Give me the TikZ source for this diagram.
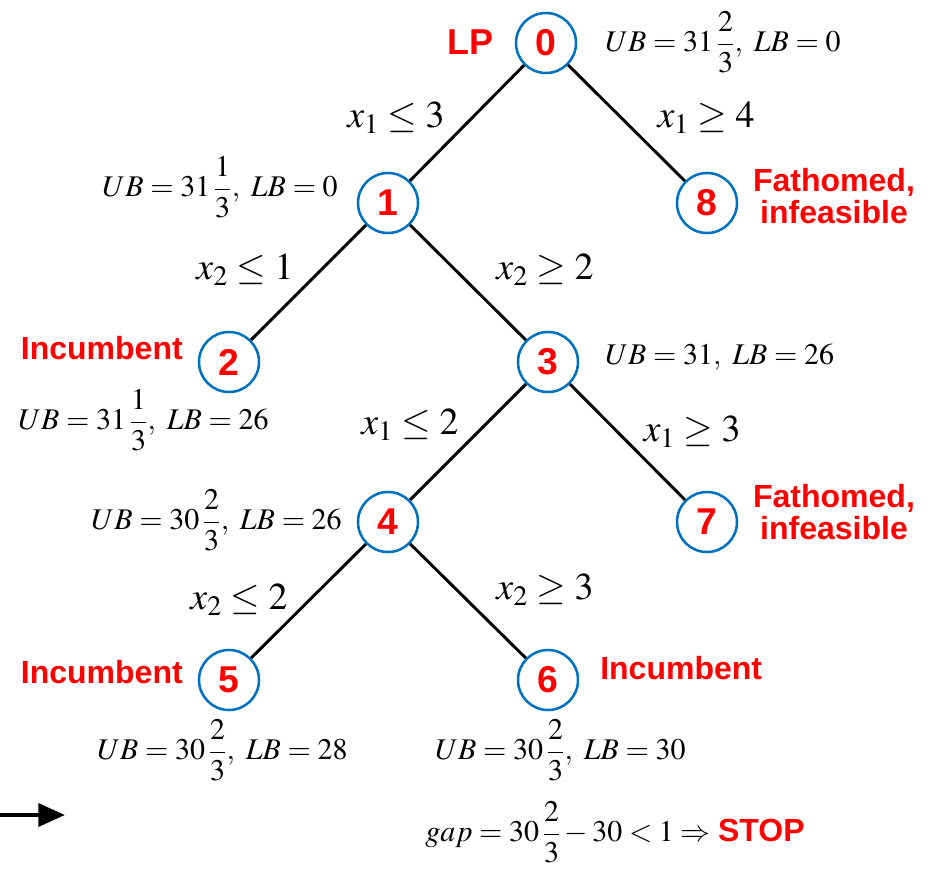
\documentclass[tikz,border=0pt]{standalone}
\usepackage{amsmath}
\usepackage{mathptmx}
\usepackage{fontspec}
\setmainfont{Liberation Serif}
\newfontfamily\labelfont{Liberation Sans}
\usepackage{tikz}
\usetikzlibrary{arrows.meta}
\definecolor{nodeblue}{HTML}{0070C0}
\definecolor{bbred}{HTML}{FF0000}

\tikzset{
  bbnode/.style={circle,draw=nodeblue,line width=1.9pt,minimum size=45pt,inner sep=0pt,
                 fill=white,text=bbred,font=\labelfont\bfseries\fontsize{28}{28}\selectfont},
  branch/.style={line width=2.2pt},
  bound/.style={inner sep=0pt,font=\fontsize{22.5}{22.5}\selectfont},
  cut/.style={inner sep=0pt,font=\fontsize{28.5}{28.5}\selectfont},
  status/.style={inner sep=0pt,align=center,text=bbred,
                 font=\labelfont\bfseries\fontsize{24}{24}\selectfont},
}

\begin{document}
\begin{tikzpicture}[x=0.75pt,y=-0.75pt]
  \useasboundingbox (0,0) rectangle (932,868);

  % tree nodes
  \node[bbnode] (n0) at (546,43)  {0};
  \node[bbnode] (n1) at (388,203) {1};
  \node[bbnode] (n8) at (707,203) {8};
  \node[bbnode] (n2) at (229,362) {2};
  \node[bbnode] (n3) at (548,362) {3};
  \node[bbnode] (n4) at (388,522) {4};
  \node[bbnode] (n7) at (707,522) {7};
  \node[bbnode] (n5) at (229,680) {5};
  \node[bbnode] (n6) at (548,680) {6};

  % branches
  \draw[branch] (n0) -- (n1);
  \draw[branch] (n0) -- (n8);
  \draw[branch] (n1) -- (n2);
  \draw[branch] (n1) -- (n3);
  \draw[branch] (n3) -- (n4);
  \draw[branch] (n3) -- (n7);
  \draw[branch] (n4) -- (n5);
  \draw[branch] (n4) -- (n6);

  % branching constraints
  \node[cut] (c01) at (396,118) {$x_1\le 3$};
  \node[cut] (c08) at (706,118) {$x_1\ge 4$};
  \node[cut] (c12) at (245,270) {$x_2\le 1$};
  \node[cut] (c13) at (545,270) {$x_2\ge 2$};
  \node[cut] (c34) at (410,425) {$x_1\le 2$};
  \node[cut] (c37) at (692,432) {$x_1\ge 3$};
  \node[cut] (c45) at (239,600) {$x_2\le 2$};
  \node[cut] (c46) at (545,590) {$x_2\ge 3$};

  % bounds
  \node[bound,anchor=west] (b0) at (605,42)  {$UB=31\,\dfrac{2}{3},\ LB=0$};
  \node[bound,anchor=east] (b1) at (338,187) {$UB=31\,\dfrac{1}{3},\ LB=0$};
  \node[bound,anchor=west] (b2) at (18,420)  {$UB=31\,\dfrac{1}{3},\ LB=26$};
  \node[bound,anchor=west] (b3) at (605,357) {$UB=31,\ LB=26$};
  \node[bound,anchor=east] (b4) at (342,520) {$UB=30\,\dfrac{2}{3},\ LB=26$};
  \node[bound,anchor=west] (b5) at (97,750)  {$UB=30\,\dfrac{2}{3},\ LB=28$};
  \node[bound,anchor=west] (b6) at (435,750) {$UB=30\,\dfrac{2}{3},\ LB=30$};
  \node[bound,anchor=west] (gap) at (425,832)
    {$gap=30\,\dfrac{2}{3}-30<1\Rightarrow$ {\color{bbred}\labelfont\bfseries\fontsize{24}{24}\selectfont STOP}};

  % node status
  \node[status,anchor=east,font=\labelfont\bfseries\fontsize{27}{27}\selectfont] (s0) at (494,42) {LP};
  \node[status] (s8) at (834,196) {Fathomed,\\infeasible};
  \node[status,anchor=east] (s2) at (183,348) {Incumbent};
  \node[status] (s7) at (834,512) {Fathomed,\\infeasible};
  \node[status,anchor=east] (s5) at (183,672) {Incumbent};
  \node[status,anchor=west] (s6) at (600,668) {Incumbent};

  % arrow
  \coordinate (go) at (0,815);
  \coordinate (goend) at (65,815);
  \draw[line width=3.4pt,-{Triangle[length=20pt,width=17pt]}] (go) -- (goend);
\end{tikzpicture}
\end{document}
